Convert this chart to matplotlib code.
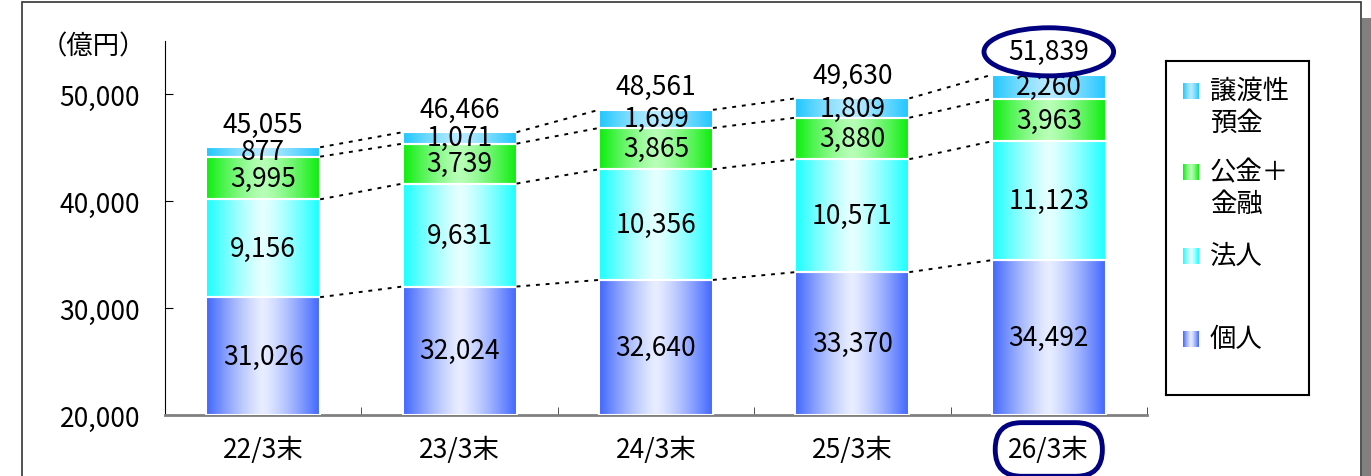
"""Deposit balance stacked bars (億円) with gradient fills and connector lines."""

import numpy as np
import matplotlib
matplotlib.use('Agg')
import matplotlib.pyplot as plt
from matplotlib.patches import Ellipse, Rectangle

plt.rcParams['font.family'] = ['Noto Sans CJK JP', 'DejaVu Sans']

# ---- data -------------------------------------------------------------
periods = ['22/3末', '23/3末', '24/3末', '25/3末', '26/3末']
kojin = [31026, 32024, 32640, 33370, 34492]        # 個人
hojin = [9156, 9631, 10356, 10571, 11123]          # 法人
kokin = [3995, 3739, 3865, 3880, 3963]             # 公金＋金融
joto = [877, 1071, 1699, 1809, 2260]               # 譲渡性預金
totals = [45055, 46466, 48561, 49630, 51839]
series_names = ['個人', '法人', '公金＋\n金融', '譲渡性\n預金']
y_ticks = [20000, 30000, 40000, 50000]
Y_MIN, Y_MAX = 20000, 55000

# gradient colours: (edge, centre)
grad_colors = [
    ((0.25, 0.40, 1.00), (0.91, 0.93, 1.00)),
    ((0.10, 1.00, 1.00), (0.90, 1.00, 1.00)),
    ((0.05, 0.93, 0.05), (0.72, 1.00, 0.72)),
    ((0.12, 0.78, 1.00), (0.72, 0.92, 1.00)),
]
NAVY = '#000080'
FS = 19

W, H = 1371, 477


def gradient(edge, centre, n=128):
    t = np.abs(np.linspace(-1, 1, n)) ** 1.3
    e = np.array(edge)
    c = np.array(centre)
    img = c[None, :] + (e - c)[None, :] * t[:, None]
    return img[None, :, :]


fig = plt.figure(figsize=(W / 100, H / 100), dpi=100)

# outer frame and shadow
fig.patches.append(Rectangle((22 / W, -0.05), (1361 - 22) / W, 1.05 - 3 / H,
                             transform=fig.transFigure, fill=False,
                             ec='#333333', lw=1.2))
fig.patches.append(Rectangle((1362 / W, 0), 9 / W, 1 - 19 / H,
                             transform=fig.transFigure, fc='#808080', ec='none'))

ax = fig.add_axes([165 / W, (H - 416) / H, (1147 - 165) / W, (416 - 42) / H])

x = np.arange(len(periods))
bw = 0.58
stack = [kojin, hojin, kokin, joto]
bottoms = np.zeros(len(periods))
levels = []
for k, vals in enumerate(stack):
    vals = np.array(vals, dtype=float)
    edge, centre = grad_colors[k]
    img = gradient(edge, centre)
    for i in range(len(periods)):
        b = bottoms[i]
        lo = max(b, Y_MIN)
        top = b + vals[i]
        ax.imshow(img, extent=[x[i] - bw / 2, x[i] + bw / 2, lo, top],
                  aspect='auto', zorder=2, interpolation='bilinear')
        ax.bar(x[i], top - lo, bw, bottom=lo, color='none', edgecolor='white',
               lw=1.5, zorder=3)
        ax.text(x[i], (lo + top) / 2, f'{int(vals[i]):,}', ha='center',
                va='center', fontsize=FS, zorder=5)
    bottoms = bottoms + vals
    levels.append(bottoms.copy())

# dotted connector lines
for lv in levels:
    for i in range(len(periods) - 1):
        ax.plot([x[i] + bw / 2, x[i + 1] - bw / 2], [lv[i], lv[i + 1]],
                color='black', lw=1.4, ls=(0, (2, 3)), zorder=4)

# totals
for i, t in enumerate(totals):
    ax.text(x[i], bottoms[i] + 2150, f'{t:,}', ha='center', va='center',
            fontsize=FS, zorder=5)

ax.add_patch(Ellipse((x[-1], bottoms[-1] + 2150), 0.66, 4500, fill=False,
                     ec=NAVY, lw=3.5, clip_on=False, zorder=6))

ax.set_xlim(-0.5, len(periods) - 0.5)
ax.set_ylim(Y_MIN, Y_MAX)
ax.set_yticks(y_ticks)
ax.set_yticklabels([f'{v:,}' for v in y_ticks], fontsize=FS)
ax.set_xticks(x)
ax.set_xticklabels(periods, fontsize=FS)
ax.set_xticks(np.arange(len(periods)) + 0.5, minor=True)
ax.tick_params(axis='x', which='major', length=0, pad=15)
ax.tick_params(axis='x', which='minor', direction='in', length=6, color='#333333')
ax.tick_params(axis='y', direction='in', length=6, pad=18)

for s in ['top', 'right']:
    ax.spines[s].set_visible(False)
ax.spines['left'].set_color('black')
ax.spines['bottom'].set_color('#808080')
ax.spines['bottom'].set_linewidth(2)

ax.get_xticklabels()[-1].set_bbox(dict(boxstyle='round,pad=0.5,rounding_size=1.0',
                                       fc='white', ec=NAVY, lw=3.5))

fig.text(93 / W, 1 - 47 / H, '（億円）', ha='center', va='center', fontsize=19)

# legend drawn manually
lax = fig.add_axes([1166 / W, (H - 396) / H, (1309 - 1166) / W, (396 - 62) / H])
lax.set_xticks([])
lax.set_yticks([])
for s in lax.spines.values():
    s.set_linewidth(1.5)
legend_y = [340, 257, 173, 92]
for k, name in enumerate(series_names):
    edge, centre = grad_colors[k]
    yc = legend_y[k]
    lax.imshow(gradient(edge, centre), extent=[1183, 1199, yc + 8, yc - 8],
               aspect='auto', interpolation='bilinear')
    lax.text(1210, yc - 14, name, ha='left', va='top', fontsize=FS,
             linespacing=1.25)
lax.set_xlim(1166, 1309)
lax.set_ylim(396, 62)

fig.savefig('out.png', dpi=100)
